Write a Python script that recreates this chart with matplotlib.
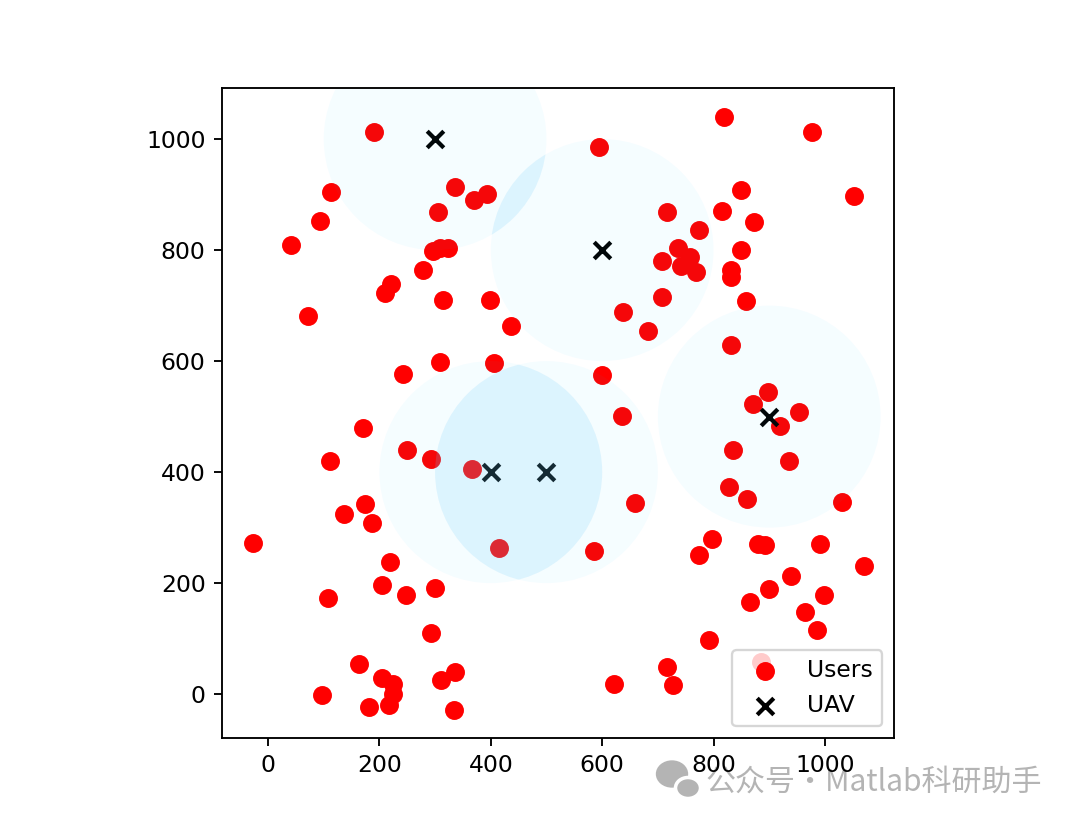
import matplotlib
matplotlib.use("Agg")
import matplotlib.pyplot as plt
from matplotlib.patches import Circle, Ellipse

# 用户位置
user_x = [190, 114, 93, 42, 336, 369, 394, 305, 296, 308, 324, 278, 220, 210, 315, 399, 436, 71, 308, 406, 243,
          819, 976, 595, 1052, 849, 816, 716, 873, 773, 736, 758, 707, 741, 768, 849, 832, 832, 707, 859, 637, 683,
          832, 600, 898, 870, 953,
          920, 636, 835, 936, 827, 860, 1031, 659, 797, 774, 879, 892, 991, 1071, 585, 939, 899, 999, 865, 965, 985,
          792, 716, 727, 622, 886,
          171, 250, 292, 367, 111, 175, 137, 186, -27, 414, 219, 205, 248, 300, 107, 292, 163, 204, 224, 224, 218,
          97, 181, 310, 336, 334]
user_y = [1012, 905, 852, 810, 914, 891, 901, 868, 799, 803, 804, 765, 739, 722, 710, 710, 663, 681, 599, 597, 577,
          1039, 1012, 986, 898, 909, 870, 868, 850, 837, 803, 788, 780, 772, 761, 800, 764, 752, 716, 709, 689, 655,
          629, 575, 545, 523, 509,
          483, 501, 440, 420, 374, 351, 346, 345, 280, 251, 270, 268, 270, 231, 258, 213, 189, 178, 166, 148, 115,
          98, 49, 16, 19, 58,
          480, 440, 424, 405, 420, 342, 325, 308, 273, 263, 238, 197, 178, 192, 173, 110, 55, 29, 19, 0, -20,
          -1, -23, 25, 40, -29]

# 无人机位置和覆盖半径
uav_x = [300, 600, 900, 400, 500]
uav_y = [1000, 800, 500, 400, 400]
radius = 200

dpi = 168.75
fig = plt.figure(figsize=(1080 / dpi, 825 / dpi), dpi=dpi)
ax = fig.add_axes([222 / 1080, 87 / 825, 672 / 1080, 650 / 825])

ax.scatter(user_x, user_y, c='red', s=50, label='Users')
ax.scatter(uav_x, uav_y, c='black', marker='x', s=50, linewidths=1.8, label='UAV')

# 覆盖范围：单层很淡，重叠部分颜色更深
circles = [Circle((cx, cy), radius) for cx, cy in zip(uav_x, uav_y)]
for c in circles:
    ax.add_patch(Circle(c.center, radius, color=(0.0, 0.8, 1.0), alpha=0.04, linewidth=0))
for i in range(len(circles)):
    for j in range(i + 1, len(circles)):
        clip = Circle(circles[j].center, radius, transform=ax.transData)
        lens = Circle(circles[i].center, radius, color='lightskyblue', alpha=0.15, linewidth=0)
        ax.add_patch(lens)
        lens.set_clip_path(clip)

ax.set_xlim(-82.6, 1124)
ax.set_ylim(-79, 1092)
ax.set_xticks([0, 200, 400, 600, 800, 1000])
ax.set_yticks([0, 200, 400, 600, 800, 1000])
ax.legend(loc='lower right')

# 水印
fig.text(705 / 1080, 1 - 782 / 825, '公众号·Matlab科研助手', fontsize=12.8, color='#b4b4b4',
         va='center', ha='left', family=['Noto Sans CJK SC', 'DejaVu Sans'], zorder=-1)
fig.add_artist(Ellipse((672 / 1080, 1 - 774 / 825), 30 / 1080, 25 / 825, color='#b4b4b4', zorder=-1))
fig.add_artist(Ellipse((688 / 1080, 1 - 788 / 825), 25 / 1080, 21 / 825, color='#b4b4b4', ec='white', lw=1.5, zorder=-1))

fig.savefig('out.png', dpi=dpi)
